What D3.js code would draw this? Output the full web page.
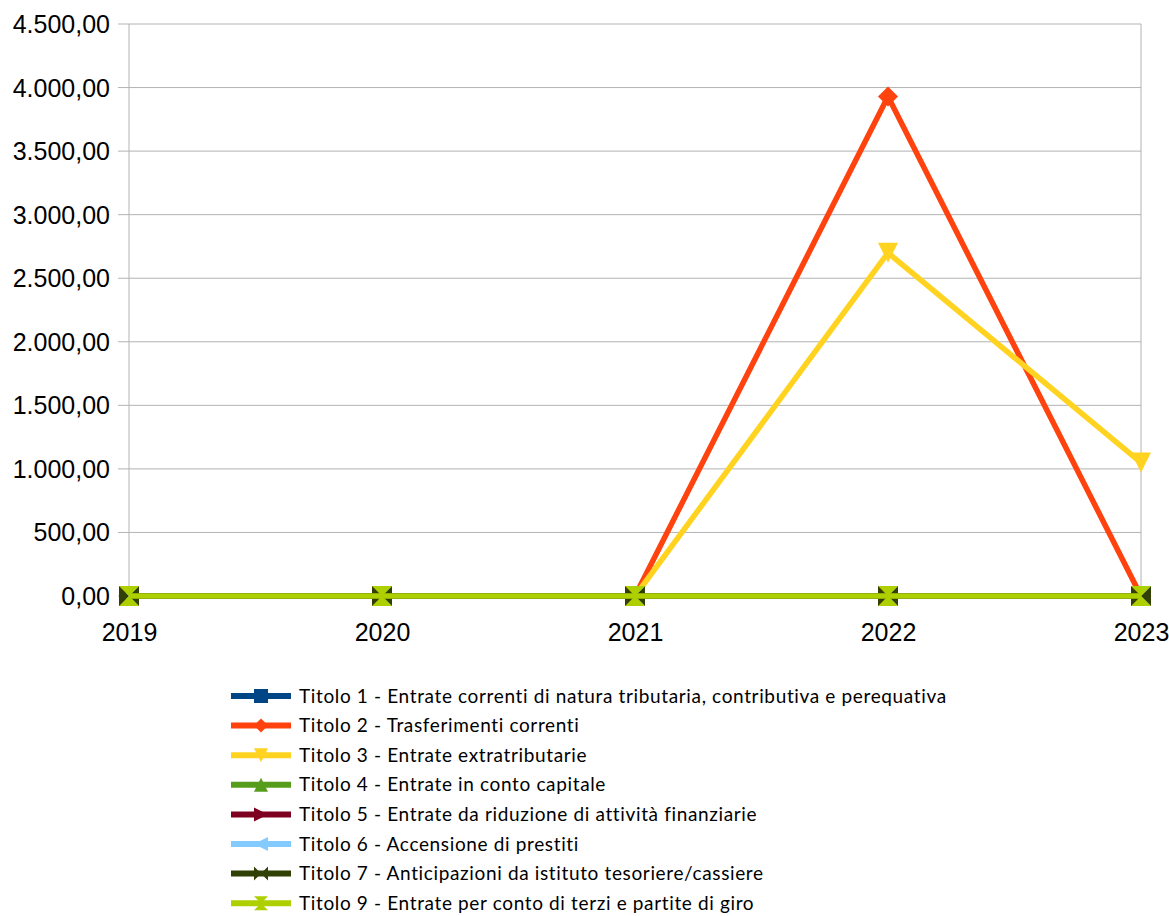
<!DOCTYPE html>
<html>
<head>
<meta charset="utf-8">
<script src="https://d3js.org/d3.v7.min.js"></script>
<style>
  body { margin: 0; background: #fff; }
  svg { display: block; }
</style>
</head>
<body>
<div id="chart"></div>
<script>
// Chart data
const years = ["2019", "2020", "2021", "2022", "2023"];
const yTicks = [0, 500, 1000, 1500, 2000, 2500, 3000, 3500, 4000, 4500];
const seriesNames = [
    "Titolo 1 - Entrate correnti di natura tributaria, contributiva e perequativa",
    "Titolo 2 - Trasferimenti correnti",
    "Titolo 3 - Entrate extratributarie",
    "Titolo 4 - Entrate in conto capitale",
    "Titolo 5 - Entrate da riduzione di attività finanziarie",
    "Titolo 6 - Accensione di prestiti",
    "Titolo 7 - Anticipazioni da istituto tesoriere/cassiere",
    "Titolo 9 - Entrate per conto di terzi e partite di giro"
];
const titolo1 = [0, 0, 0, 0, 0];
const titolo2 = [0, 0, 0, 3930, 0];
const titolo3 = [0, 0, 0, 2700, 1050];
const titolo4 = [0, 0, 0, 0, 0];
const titolo5 = [0, 0, 0, 0, 0];
const titolo6 = [0, 0, 0, 0, 0];
const titolo7 = [0, 0, 0, 0, 0];
const titolo9 = [0, 0, 0, 0, 0];
const seriesValues = [titolo1, titolo2, titolo3, titolo4, titolo5, titolo6, titolo7, titolo9];

// Styles
const colors = ["#004586", "#ff420e", "#ffd320", "#579d1c", "#7e0021", "#83caff", "#314004", "#aecf00"];
const markers = ["square", "diamond", "down", "up", "right", "left", "bowtie", "hourglass"];

function markerPath(type, h) {
    switch (type) {
        case "square": return `M${-h},${-h}L${h},${-h}L${h},${h}L${-h},${h}Z`;
        case "diamond": return `M0,${-h}L${h},0L0,${h}L${-h},0Z`;
        case "down": return `M${-h},${-h}L${h},${-h}L0,${h}Z`;
        case "up": return `M${-h},${h}L${h},${h}L0,${-h}Z`;
        case "right": return `M${-h},${-h}L${h},0L${-h},${h}Z`;
        case "left": return `M${h},${-h}L${-h},0L${h},${h}Z`;
        case "bowtie": return `M${-h},${-h}L0,0L${-h},${h}Z M${h},${-h}L0,0L${h},${h}Z`;
        case "hourglass": return `M${-h},${-h}L${h},${-h}L0,0Z M${-h},${h}L${h},${h}L0,0Z`;
    }
}

const width = 1169, height = 916;
const plot = { left: 129, right: 1141, top: 24, bottom: 596 };

const svg = d3.select("#chart").append("svg")
    .attr("width", width)
    .attr("height", height);

const x = d3.scalePoint()
    .domain(years)
    .range([plot.left, plot.right]);

const y = d3.scaleLinear()
    .domain([0, 4500])
    .range([plot.bottom, plot.top]);

// Horizontal gridlines
svg.append("g")
    .selectAll("line")
    .data(yTicks)
    .join("line")
    .attr("x1", plot.left - 11)
    .attr("x2", plot.right)
    .attr("y1", d => y(d))
    .attr("y2", d => y(d))
    .attr("stroke", "#b3b3b3")
    .attr("stroke-width", 1);

// Vertical edges of plot area
svg.append("g")
    .selectAll("line")
    .data([plot.left, plot.right])
    .join("line")
    .attr("x1", d => d)
    .attr("x2", d => d)
    .attr("y1", plot.top)
    .attr("y2", plot.bottom + 6)
    .attr("stroke", "#b3b3b3")
    .attr("stroke-width", 1);

// X axis
const xAxis = svg.append("g")
    .attr("transform", `translate(0,${plot.bottom})`)
    .call(d3.axisBottom(x).tickSize(6).tickPadding(21));
xAxis.select(".domain").attr("stroke", "#b3b3b3");
xAxis.selectAll(".tick line").attr("stroke", "#b3b3b3");
xAxis.selectAll("text")
    .attr("font-family", "Liberation Sans, Arial, sans-serif")
    .attr("font-size", 25)
    .attr("fill", "#000");

// Y axis labels
const fmt = v => d3.format(",.2f")(v).replace(/,/g, "#").replace(".", ",").replace(/#/g, ".");
svg.append("g")
    .selectAll("text")
    .data(yTicks)
    .join("text")
    .attr("x", plot.left - 19)
    .attr("y", d => y(d))
    .attr("dy", "0.36em")
    .attr("text-anchor", "end")
    .attr("font-family", "Liberation Sans, Arial, sans-serif")
    .attr("font-size", 25)
    .attr("fill", "#000")
    .text(d => fmt(d));

// Series lines and markers
const line = d3.line()
    .x((d, i) => x(years[i]))
    .y(d => y(d));

seriesValues.forEach((vals, s) => {
    const g = svg.append("g");
    g.append("path")
        .datum(vals)
        .attr("d", line)
        .attr("fill", "none")
        .attr("stroke", colors[s])
        .attr("stroke-width", 5.5)
        .attr("stroke-linejoin", "round");
    g.selectAll("path.mk")
        .data(vals)
        .join("path")
        .attr("class", "mk")
        .attr("transform", (d, i) => `translate(${x(years[i])},${y(d)})`)
        .attr("d", markerPath(markers[s], 10))
        .attr("fill", colors[s]);
});

// Legend
const legend = svg.append("g");
const rowY = i => 696 + i * 29.6;
seriesNames.forEach((name, i) => {
    const row = legend.append("g").attr("transform", `translate(0,${rowY(i)})`);
    row.append("line")
        .attr("x1", 231).attr("x2", 291)
        .attr("y1", 0).attr("y2", 0)
        .attr("stroke", colors[i])
        .attr("stroke-width", 6);
    row.append("path")
        .attr("transform", "translate(261,0)")
        .attr("d", markerPath(markers[i], 7))
        .attr("fill", colors[i]);
    row.append("text")
        .attr("x", 299)
        .attr("y", 0)
        .attr("dy", "0.35em")
        .attr("font-family", "Lato, 'Open Sans', sans-serif")
        .attr("font-size", 19)
        .attr("letter-spacing", 0.64)
        .attr("fill", "#000")
        .text(name);
});
</script>
</body>
</html>
